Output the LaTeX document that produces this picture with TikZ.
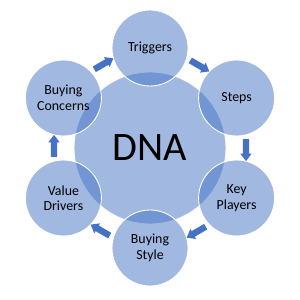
\documentclass[tikz,border=0pt]{standalone}
\usepackage{fontspec}
\setmainfont{Carlito}
\usepackage{xcolor}
\usetikzlibrary{shapes.arrows}
\definecolor{dnablue}{HTML}{4472C4}

\begin{document}
\begin{tikzpicture}[font=\fontsize{7.9}{8.8}\selectfont, every node/.style={inner sep=0pt}]
    \tikzset{
        hub/.style={circle, fill=dnablue, fill opacity=0.5, text opacity=1, draw=white, line width=0.5pt, minimum size=3.04cm},
        part/.style={hub, minimum size=1.52cm, align=center},
        flow/.style={single arrow, fill=dnablue, draw=none, minimum height=0.44cm, minimum width=0.23cm, inner sep=0.055cm, single arrow head extend=0.05cm, single arrow tip angle=75}
    }
    \useasboundingbox (-3,-3.04) rectangle (3,2.96);
    \node[hub, font=\fontsize{23}{26}\selectfont] (dna) {DNA};
    \node[part] (trig) at (90:2) {Triggers};
    \node[part] (steps) at (30:2) {Steps};
    \node[part] (keyp) at (-30:2) {Key\\Players};
    \node[part] (style) at (-90:2) {Buying\\Style};
    \node[part] (value) at (-150:2) {Value\\Drivers};
    \node[part] (conc) at (150:2) {Buying\\Concerns};
    \node[flow, rotate=-30] (f1) at (60:1.92) {};
    \node[flow, rotate=-90] (f2) at (0:1.92) {};
    \node[flow, rotate=-150] (f3) at (-60:1.92) {};
    \node[flow, rotate=150] (f4) at (-120:1.92) {};
    \node[flow, rotate=90] (f5) at (180:1.92) {};
    \node[flow, rotate=30] (f6) at (120:1.92) {};
\end{tikzpicture}
\end{document}
